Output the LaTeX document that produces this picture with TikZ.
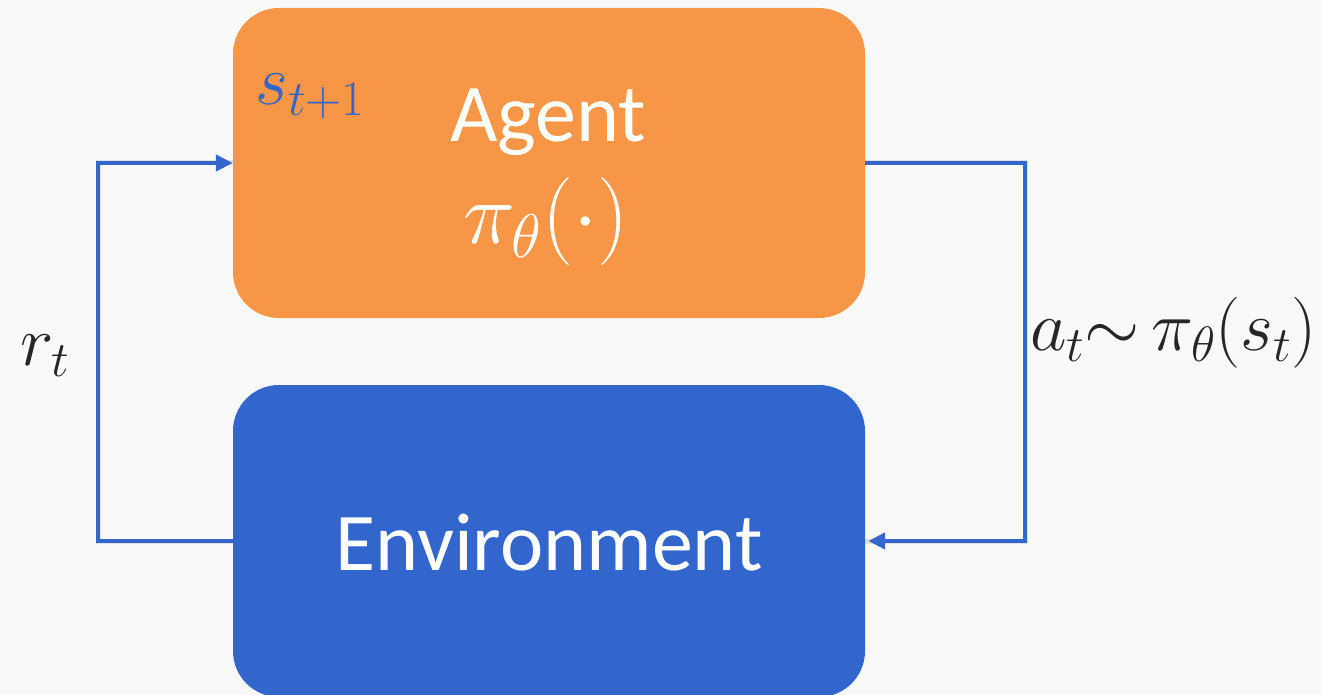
\documentclass[tikz,border=0pt]{standalone}
\usepackage{fix-cm}
\usepackage{fontspec}
\setmainfont{Carlito}
\usetikzlibrary{arrows.meta}

\definecolor{bgcol}{HTML}{F9F9F9}
\definecolor{agentorange}{HTML}{F79646}
\definecolor{envblue}{HTML}{3366CC}
\definecolor{linkblue}{HTML}{3466CC}
\definecolor{labelgray}{HTML}{262626}

\tikzset{
  blockbox/.style={draw=none, rounded corners=46pt, minimum width=632pt,
    inner sep=0pt},
  boxtext/.style={text=white, inner sep=0pt, anchor=base,
    font=\fontsize{82}{98}\selectfont},
  mathlabel/.style={text=labelgray, inner sep=0pt,
    font=\fontsize{71}{84}\selectfont},
  loopline/.style={draw=linkblue, line width=4.8pt,
    -{Triangle[length=17pt,width=16pt]}},
  loopshadow/.style={draw=black, draw opacity=0.10, line width=5pt}
}

\begin{document}
\begin{tikzpicture}[x=1pt, y=-1pt]
  % canvas
  \fill[bgcol] (0,0) rectangle (1322,695);
  \useasboundingbox (0,0) rectangle (1322,695);

  % the two blocks
  \node[blockbox, fill=agentorange, minimum height=310pt] (agent) at (549,163) {};
  \node[blockbox, fill=envblue, minimum height=312pt] (env) at (549,541) {};

  % block texts
  \node[boxtext] (agentname) at (548,142) {Agent};
  \node[text=white, inner sep=0pt, font=\fontsize{88}{104}\selectfont]
    (policy) at (546,222) {$\pi_\theta(\cdot)$};
  \node[boxtext] (envname) at (549,570) {Environment};
  \node[mathlabel, text=envblue] (nextstate) at (310,96) {$s_{t+1}$};

  % turning points of the feedback loop
  \coordinate (leftrail) at (98,350);
  \coordinate (rightrail) at (1025,350);

  % soft shadows under the loop lines
  \begin{scope}[shift={(2,2.5)}]
    \draw[loopshadow] (env.west) -- (env.west -| leftrail) |- (agent.west);
    \draw[loopshadow] (agent.east) -- (agent.east -| rightrail) |- (env.east);
  \end{scope}

  % reward / state path and action path
  \draw[loopline] (env.west) -- (env.west -| leftrail) |- (agent.west);
  \draw[loopline] (agent.east) -- (agent.east -| rightrail) |- ([xshift=3pt]env.east);

  % loop labels
  \node[mathlabel] (reward) at (45,356) {$r_t$};
  \node[mathlabel, anchor=west] (action) at (1030,333)
    {$a_t{\sim}\,\pi_\theta(s_t)$};
\end{tikzpicture}
\end{document}
